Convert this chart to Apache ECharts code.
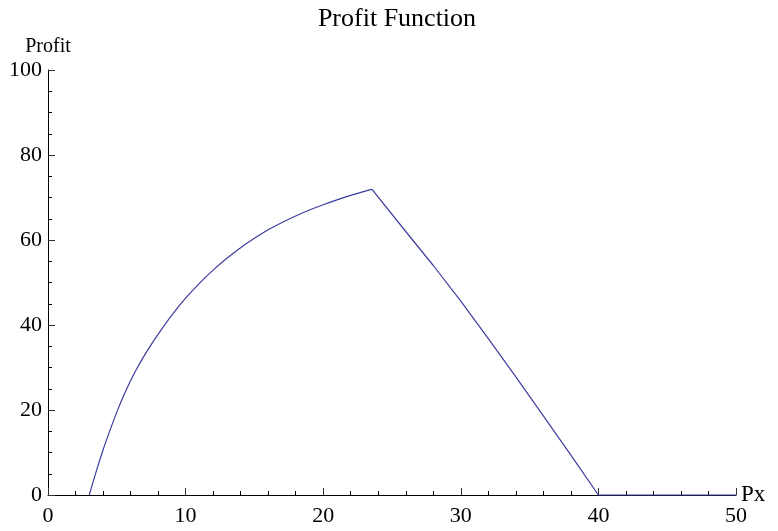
<!DOCTYPE html>
<html>
<head>
<meta charset="utf-8">
<title>Profit Function</title>
<script src="https://cdn.jsdelivr.net/npm/echarts@6/dist/echarts.min.js"></script>
<style>
  html, body { margin: 0; padding: 0; background: #ffffff; }
  #chart { width: 778px; height: 531px; }
</style>
</head>
<body>
<div id="chart"></div>
<script>
// Price of good x and the resulting profit
const pxValues = [3.0, 3.5, 4.0, 4.5, 5.0, 5.5, 6.0, 6.5, 7.0, 7.5, 8.0, 9.0, 10.0, 11.0, 12.0,
  13.0, 14.0, 15.0, 16.0, 17.0, 18.0, 19.0, 20.0, 21.0, 22.0, 23.0, 23.55,
  26.0, 28.0, 30.0, 32.0, 34.0, 36.0, 38.0, 40.0, 50.0];
const profitValues = [0, 5.5, 10.6, 15.2, 19.5, 23.4, 26.9, 30.0, 32.8, 35.4, 37.8, 42.3, 46.3, 49.8, 52.9,
  55.7, 58.2, 60.4, 62.4, 64.1, 65.65, 67.05, 68.3, 69.45, 70.5, 71.45, 71.9,
  62.0, 54.0, 45.6, 36.8, 27.8, 18.6, 9.4, 0, 0];

// Price at which profit peaks (the kink of the curve)
const peakPx = 23.55;

// Axis ranges and tick spacing
const xRange = [0, 50];
const xStep = 10;
const yRange = [0, 100];
const yStep = 20;

const FONT = "'Liberation Serif', 'DejaVu Serif', serif";

const points = pxValues.map((x, i) => [x, profitValues[i]]);
// Rising branch is drawn smoothed, the falling branch piecewise straight
const risingPoints = points.filter(p => p[0] <= peakPx);
const fallingPoints = points.filter(p => p[0] >= peakPx);

const chart = echarts.init(document.getElementById('chart'), null, { renderer: 'canvas' });

const axisCommon = {
  axisLine: { show: true, onZero: false, lineStyle: { color: '#000', width: 1 } },
  axisTick: { show: true, inside: true, length: 7, lineStyle: { color: '#333', width: 1 } },
  minorTick: { show: true, length: 4, lineStyle: { color: '#000', width: 1 } },
  splitLine: { show: false },
  minorSplitLine: { show: false },
  axisLabel: { color: '#000', fontFamily: FONT, fontSize: 22 },
  nameTextStyle: { color: '#000', fontFamily: FONT, fontSize: 20 }
};

const lineStyle = { color: '#3d3da0', width: 1.2 };

chart.setOption({
  backgroundColor: '#ffffff',
  animation: false,
  title: {
    text: 'Profit Function',
    left: 392,
    textAlign: 'center',
    top: 1,
    textStyle: { color: '#000', fontFamily: FONT, fontSize: 26, fontWeight: 'normal' }
  },
  grid: { left: 48, right: 42, top: 70, bottom: 36, containLabel: false },
  xAxis: Object.assign({}, axisCommon, {
    type: 'value',
    min: xRange[0], max: xRange[1], interval: xStep,
    name: 'Px',
    nameLocation: 'end',
    nameGap: 5,
    nameMoveOverlap: false,
    nameTextStyle: Object.assign({}, axisCommon.nameTextStyle, { fontSize: 23, verticalAlign: 'middle', align: 'left' }),
    minorTick: Object.assign({}, axisCommon.minorTick, { splitNumber: 5 }),
    axisLabel: Object.assign({}, axisCommon.axisLabel, { margin: 10 })
  }),
  yAxis: Object.assign({}, axisCommon, {
    type: 'value',
    min: yRange[0], max: yRange[1], interval: yStep,
    name: 'Profit',
    nameLocation: 'end',
    nameGap: 13,
    nameMoveOverlap: false,
    minorTick: Object.assign({}, axisCommon.minorTick, { splitNumber: 4 }),
    axisLabel: Object.assign({}, axisCommon.axisLabel, { margin: 6 })
  }),
  series: [{
    type: 'line',
    data: risingPoints,
    showSymbol: false,
    smooth: 0.35,
    clip: false,
    lineStyle: lineStyle,
    z: 3
  }, {
    type: 'line',
    data: fallingPoints,
    showSymbol: false,
    smooth: false,
    clip: false,
    lineStyle: lineStyle,
    z: 3
  }]
});
</script>
</body>
</html>
